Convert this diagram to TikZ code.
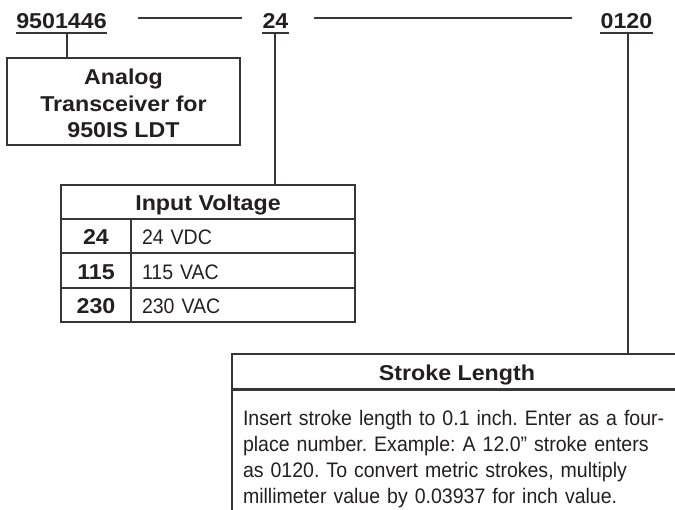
\documentclass[tikz,border=0pt]{standalone}
\usepackage{fontspec}
\setmainfont{Liberation Sans}
\newfontfamily\bodyfont[FakeStretch=0.93]{Liberation Sans}
\newfontfamily\headfont[FakeStretch=1.08]{Liberation Sans}
\definecolor{ink}{HTML}{231F20}
\frenchspacing
\begin{document}
\begin{tikzpicture}[x=1pt,y=-1pt,
  ln/.style={draw=ink!90, line width=1.1pt},
  code/.style={anchor=base, inner sep=0pt, text=ink, font=\headfont\bfseries\fontsize{21.5}{26}\selectfont},
  boxed/.style={draw=ink!90, line width=1.1pt, rectangle, inner sep=0pt, text=ink},
  headcell/.style={boxed, font=\headfont\bfseries\fontsize{21.5}{26}\selectfont, text height=18pt, text depth=0pt},
  numcell/.style={headcell, minimum width=70pt, minimum height=34pt},
  valcell/.style={boxed, font=\bodyfont\fontsize{21}{26}\selectfont, text height=18pt, text depth=0pt,
     minimum height=34pt, inner xsep=11pt, text width=202pt, align=left},
]
\useasboundingbox (0,0) rectangle (675,510);
\clip (0,0) rectangle (675,510);

% codes
\node[code] (c1) at (61.5,29) {9501446};
\node[code] (c2) at (275.5,29) {24};
\node[code] (c3) at (626.5,29) {0120};
\draw[ln] ([yshift=-4pt]c1.base west) -- ([yshift=-4pt]c1.base east);
\draw[ln] ([yshift=-4pt]c2.base west) -- ([yshift=-4pt]c2.base east);
\draw[ln] ([yshift=-4pt]c3.base west) -- ([yshift=-4pt]c3.base east);

% leader lines
\coordinate (l1a) at (138,18);
\coordinate (l1b) at (242,18);
\coordinate (l2a) at (314,18);
\coordinate (l2b) at (572,18);
\draw[ln] (l1a) -- (l1b);
\draw[ln] (l2a) -- (l2b);

% analog box
\node[boxed, minimum width=233pt, minimum height=87pt, align=center,
      font=\headfont\bfseries\fontsize{21.5}{26.5}\selectfont] (box) at (123.5,101.5)
      {\rule{0pt}{20pt}Analog\\Transceiver for\\950IS LDT};

% input voltage table
\node[headcell, minimum width=294pt, minimum height=34pt] (hdr) at (208,202) {Input Voltage};
\node[numcell] (n1) at (96,236) {24};
\node[numcell] (n2) at (96,270.5) {115};
\node[numcell] (n3) at (96,305) {230};
\node[valcell] (v1) at (243,236) {24 VDC};
\node[valcell] (v2) at (243,270.5) {115 VAC};
\node[valcell] (v3) at (243,305) {230 VAC};

% stroke length
\node[headcell, minimum width=480pt, minimum height=35pt] (sh) at (472,371.5) {\hspace*{-30pt}Stroke Length};
\node[boxed, anchor=north west, inner xsep=11pt, inner ysep=19.7pt, text width=458pt, align=left,
      font=\bodyfont\fontsize{21}{26.3}\selectfont] (sb) at (sh.south west)
  {Insert stroke length to 0.1 inch. Enter as a four-\\
   place number. Example: A 12.0” stroke enters\\
   as 0120. To convert metric strokes, multiply\\
   millimeter value by 0.03937 for inch value.};

% connectors
\coordinate (u1) at (67,33);
\coordinate (u2) at (275,33);
\coordinate (u3) at (628,33);
\draw[ln] (u1) -- (u1 |- box.north);
\draw[ln] (u2) -- (u2 |- hdr.north);
\draw[ln] (u3) -- (u3 |- sh.north);
\end{tikzpicture}
\end{document}
